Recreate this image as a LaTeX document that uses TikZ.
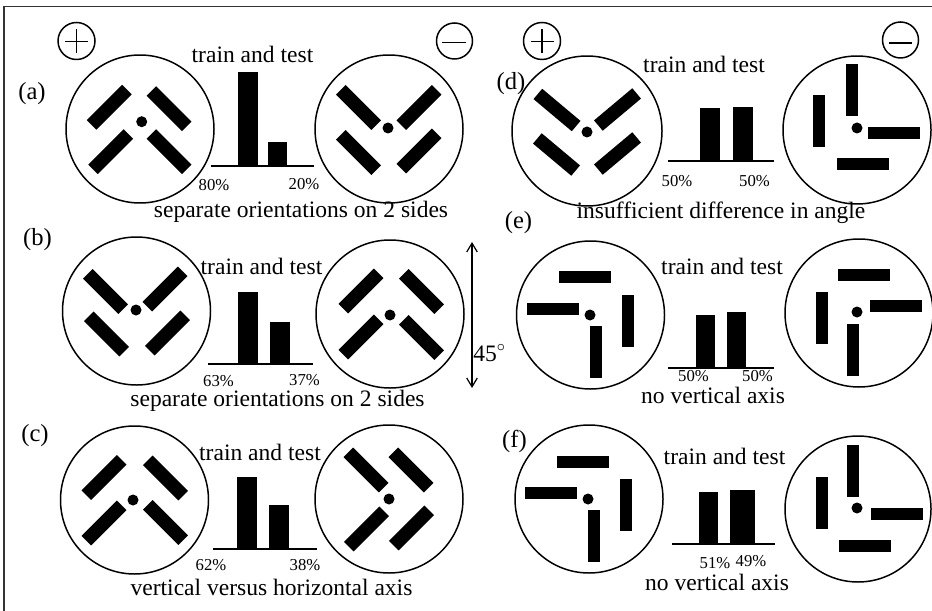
\documentclass[tikz,border=0pt]{standalone}
\usepackage{fontspec}
\setmainfont{Liberation Serif}
\usetikzlibrary{arrows.meta}
\newcommand\dbr[3]{\fill[shift={(#1,#2)},rotate=#3] (-25,-6.75) rectangle (25,6.75);}
\newcommand\hbr[2]{\fill (#1-26,#2-6) rectangle (#1+26,#2+6);}
\newcommand\vbr[2]{\fill (#1-6,#2-26) rectangle (#1+6,#2+26);}
\tikzset{
  main/.style={font=\fontsize{13.4}{16}\selectfont, anchor=base, inner sep=0pt},
  pct/.style={font=\fontsize{9.5}{11}\selectfont, anchor=base, inner sep=0pt},
  lbl/.style={font=\fontsize{14}{16}\selectfont, anchor=base, inner sep=0pt},
  ring/.style={draw, line width=0.85pt},
  sign/.style={draw, line width=0.85pt},
  axisline/.style={draw, line width=0.6pt},
}
\begin{document}
\begin{tikzpicture}[x=0.02cm,y=-0.02cm]
\fill[white] (0,0) rectangle (932,611);
\useasboundingbox (0,0) rectangle (932,611);
% frame
\draw[line width=1.1pt, black!80] (4,611) -- (4,6.5) -- (932,6.5);
% plus / minus signs
\draw[sign] (76.5,41) circle[radius=18.5];
\draw[sign] (65,41.5) -- (88,41.5) (76.5,29) -- (76.5,53);
\draw[sign] (454.5,41) circle[radius=18];
\draw[sign] (442,42.5) -- (466,42.5);
\draw[sign] (542,41) circle[radius=18.5];
\draw[sign] (530.5,41.5) -- (553.5,41.5) (542,29) -- (542,53);
\draw[sign] (900.5,40) circle[radius=18];
\draw[sign] (889,43) -- (912,43);

% ---------- (a)
\node[lbl] (la) at (32,100) {(a)};
\draw[ring] (140,129) circle[radius=74];
\fill (141.7,121.7) circle[radius=5.5];
\dbr{109.2}{107.3}{45} \dbr{169}{108.7}{-45} \dbr{110.7}{151.7}{45} \dbr{169}{151.7}{-45}
\draw[ring] (389,129) circle[radius=74];
\fill (388,128) circle[radius=5.5];
\dbr{358.5}{107.5}{-45} \dbr{419}{107.5}{45} \dbr{358.5}{152.5}{-45} \dbr{419}{151}{45}
\draw[axisline] (211,166) -- (314,166);
\fill (238,166) rectangle (258,72);
\fill (268,166) rectangle (287,142);
\node[main] (ta) at (252.5,62.5) {train and test};
\node[pct] (pa1) at (214,191) {80\%};
\node[pct] (pa2) at (304,190) {20\%};
\node[main] (sa) at (301,217) {separate orientations on 2 sides};

% ---------- (b)
\node[lbl] (lb) at (37.5,245) {(b)};
\draw[ring] (136.5,311) circle[radius=74];
\fill (136,310) circle[radius=5.5];
\dbr{105.5}{291.5}{-45} \dbr{165}{289}{45} \dbr{106.5}{334}{-45} \dbr{167.5}{333}{45}
\draw[ring] (390,314) circle[radius=74];
\fill (390,315) circle[radius=5.5];
\dbr{361}{291}{45} \dbr{421.5}{291.5}{-45} \dbr{361}{337}{45} \dbr{421.5}{337.5}{-45}
\draw[axisline] (208,364) -- (313,364);
\fill (238,364) rectangle (258,292);
\fill (270,364) rectangle (290,322);
\node[main] (tb) at (261.5,274) {train and test};
\node[pct] (pb1) at (218.5,386) {63\%};
\node[pct] (pb2) at (304.5,385) {37\%};
\node[main] (sb) at (277.5,406) {separate orientations on 2 sides};

% ---------- (c)
\node[lbl] (lc) at (35,441.5) {(c)};
\draw[ring] (134.5,500) circle[radius=74];
\fill (133,500) circle[radius=5.5];
\dbr{104}{477.5}{45} \dbr{165.5}{478}{-45} \dbr{104}{523}{45} \dbr{165.5}{522.5}{-45}
\draw[ring] (389,499) circle[radius=74];
\fill (389,499) circle[radius=5.5];
\dbr{366}{470}{-45} \dbr{411}{470}{-45} \dbr{366.5}{529}{45} \dbr{411.5}{528}{45}
\draw[axisline] (213,549) -- (317,549);
\fill (237,549) rectangle (257,477);
\fill (269,549) rectangle (289,505);
\node[main] (tc) at (260,460) {train and test};
\node[pct] (pc1) at (211,570) {62\%};
\node[pct] (pc2) at (305,570) {38\%};
\node[main] (sc) at (271.5,595) {vertical versus horizontal axis};

% 45 degree arrow
\coordinate (arT) at (472,242);
\coordinate (arB) at (472,388);
\draw[line width=0.7pt, {Straight Barb[length=5pt,width=6pt]}-{Straight Barb[length=5pt,width=6pt]}] (arT) -- (arB);
\node[main, anchor=base west] (deg) at (473,361) {45$^{\circ}$};

% ---------- (d)
\node[lbl] (ld) at (511,90) {(d)};
\draw[ring] (587,131) circle[radius=75];
\fill (587,132) circle[radius=5.5];
\dbr{557}{110}{-40} \dbr{617.5}{109.5}{40} \dbr{556.5}{154.5}{-40} \dbr{617.5}{153.5}{40}
\draw[ring] (857,130) circle[radius=74];
\fill (857,128) circle[radius=5.5];
\vbr{851.5}{90.5} \vbr{819}{121.5} \hbr{894}{133.5} \hbr{862.5}{164.5}
\draw[axisline] (668,161) -- (774,161);
\fill (700,161) rectangle (720,108);
\fill (733,161) rectangle (753,107);
\node[main] (td) at (704,72.5) {train and test};
\node[pct] (pd1) at (677,186.5) {50\%};
\node[pct] (pd2) at (754.5,186.5) {50\%};
\node[main] (sd) at (721,218) {insufficient difference in angle};

% ---------- (e)
\node[lbl] (le) at (518.5,228) {(e)};
\draw[ring] (590.5,315) circle[radius=74];
\fill (590,315) circle[radius=5.5];
\hbr{585}{277} \hbr{552.5}{308.5} \vbr{627.5}{320.5} \vbr{596}{351.5}
\draw[ring] (859,313) circle[radius=74];
\fill (857,312) circle[radius=5.5];
\hbr{864}{275} \hbr{895.5}{306} \vbr{821.5}{318} \vbr{852.5}{349.5}
\draw[axisline] (668,368) -- (774,368);
\fill (696,368) rectangle (715,315);
\fill (727,368) rectangle (746,312);
\node[main] (te) at (722,274) {train and test};
\node[pct] (pe1) at (693.5,381.5) {50\%};
\node[pct] (pe2) at (757.5,381.5) {50\%};
\node[main] (se) at (713,403.5) {no vertical axis};

% ---------- (f)
\node[lbl] (lf) at (514.5,447) {(f)};
\draw[ring] (589,499) circle[radius=74];
\fill (588,499) circle[radius=5.5];
\hbr{582.5}{462} \hbr{551}{493} \vbr{625.5}{505} \vbr{594}{536}
\draw[ring] (858,509) circle[radius=73];
\fill (857,508) circle[radius=5.5];
\vbr{853}{471} \vbr{821.5}{502.5} \hbr{896.5}{514} \hbr{864.5}{545.5}
\draw[axisline] (672,544) -- (775,544);
\fill (699,544) rectangle (718,492);
\fill (730,544) rectangle (755,490);
\node[main] (tf) at (724.5,464) {train and test};
\node[pct] (pf1) at (715,568) {51\%};
\node[pct] (pf2) at (751,566) {49\%};
\node[main] (sf) at (717,590) {no vertical axis};
\end{tikzpicture}
\end{document}
